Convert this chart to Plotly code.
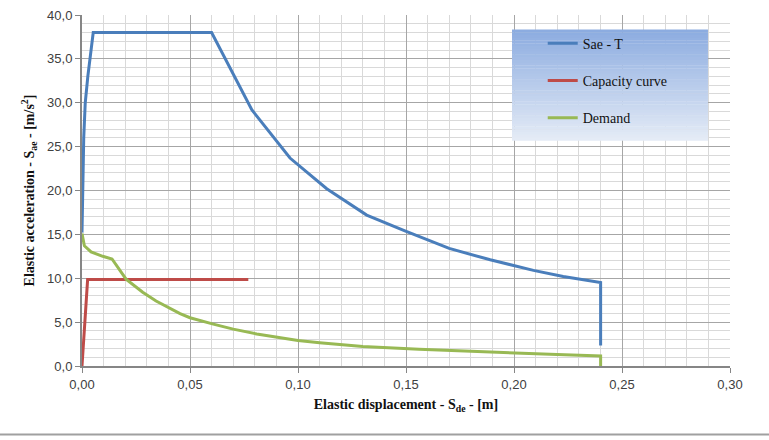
import plotly.graph_objects as go

# Sae - T spectrum (ADRS)
sae_x = [0.0, 0.0008, 0.0015, 0.0027, 0.0052, 0.0600, 0.0786, 0.0963, 0.1133, 0.1318,
         0.1495, 0.1700, 0.1890, 0.2090, 0.2228, 0.2401, 0.2401]
sae_y = [15.2, 26.0, 30.0, 33.0, 38.0, 38.0, 29.2, 23.7, 20.2, 17.2,
         15.4, 13.4, 12.1, 10.9, 10.2, 9.5, 2.35]

# capacity curve (bilinear)
cap_x = [0.0, 0.0026, 0.0770]
cap_y = [0.0, 9.85, 9.85]

# demand
dem_x = [0.0, 0.0011, 0.0042, 0.0096, 0.0139, 0.0204, 0.0281, 0.0343, 0.0454, 0.0500,
         0.0608, 0.0700, 0.0809, 0.0900, 0.1000, 0.1100, 0.1300, 0.1560, 0.1800,
         0.2000, 0.2200, 0.2401, 0.2401]
dem_y = [15.1, 13.7, 13.0, 12.5, 12.2, 9.9, 8.4, 7.4, 5.96, 5.5,
         4.77, 4.2, 3.65, 3.27, 2.9, 2.65, 2.23, 1.9, 1.65,
         1.5, 1.3, 1.15, 0.0]

C = {"sae": "#4a7ebb", "cap": "#be4b48", "dem": "#98b954",
     "minor": "#d9d9d9", "major": "#a6a6a6", "axis": "#868686", "text": "#404040"}
SERIF = "Liberation Serif, DejaVu Serif, serif"

fig = go.Figure()
for name, xs, ys, col in [("Sae - T", sae_x, sae_y, C["sae"]),
                          ("Capacity curve", cap_x, cap_y, C["cap"]),
                          ("Demand", dem_x, dem_y, C["dem"])]:
    fig.add_trace(go.Scatter(x=xs, y=ys, mode="lines", name=name, legendgroup=name,
                             line=dict(color=col, width=3)))

# legend box with vertical gradient (paper coords)
x0, x1, y0, y1 = 0.6636, 0.966, 0.642, 0.958
top, bot = (140, 172, 224), (228, 235, 246)
n = 40
for i in range(n):
    t = i / (n - 1)
    col = tuple(round(top[k] + (bot[k] - top[k]) * t) for k in range(3))
    ya = y1 - (y1 - y0) * i / n
    yb = y1 - (y1 - y0) * (i + 1) / n
    fig.add_shape(type="rect", xref="paper", yref="paper", x0=x0, x1=x1, y0=yb, y1=ya + 0.001,
                  line=dict(width=0), fillcolor="rgb(%d,%d,%d)" % col, layer="above")

# grey rule at bottom of the page
fig.add_shape(type="line", xref="paper", yref="paper", x0=-0.2, x1=1.2, y0=-0.1955, y1=-0.1955,
              line=dict(color="#a0a0a0", width=2))

fig.update_layout(
    width=769, height=440,
    margin=dict(l=82, r=39, t=8, b=74),
    paper_bgcolor="white", plot_bgcolor="white",
    separators=",.",
    font=dict(family="Liberation Sans, Arial, sans-serif", size=13, color=C["text"]),
    showlegend=True,
    legend=dict(x=0.711, y=0.964, xanchor="left", yanchor="top",
                bgcolor="rgba(0,0,0,0)", borderwidth=0, tracegroupgap=16,
                font=dict(family=SERIF, size=14, color="#111111")),
)
fig.update_xaxes(
    range=[0, 0.30], dtick=0.05, tickformat=".2f",
    showgrid=True, gridcolor=C["major"], gridwidth=1,
    minor=dict(dtick=0.01, showgrid=True, gridcolor=C["minor"], gridwidth=1),
    showline=True, linecolor=C["axis"], linewidth=2,
    ticks="outside", ticklen=5, tickcolor=C["axis"], zeroline=False,
    title=dict(text="<b>Elastic displacement - S<sub>de</sub> - [m]</b>", standoff=9,
               font=dict(family=SERIF, size=14, color="#111111")),
)
fig.update_yaxes(
    range=[0, 40], dtick=5, tickformat=".1f",
    showgrid=True, gridcolor=C["major"], gridwidth=1,
    minor=dict(dtick=1, showgrid=True, gridcolor=C["minor"], gridwidth=1),
    showline=True, linecolor=C["axis"], linewidth=2,
    ticks="outside", ticklen=5, tickcolor=C["axis"], zeroline=False,
    title=dict(text="<b>Elastic acceleration - S<sub>ae</sub> - [m/s<sup>2</sup>]</b>", standoff=9,
               font=dict(family=SERIF, size=14, color="#111111")),
)

fig.write_html("out.html", config={"displayModeBar": False},
               post_script="document.body.style.margin='0px';")
